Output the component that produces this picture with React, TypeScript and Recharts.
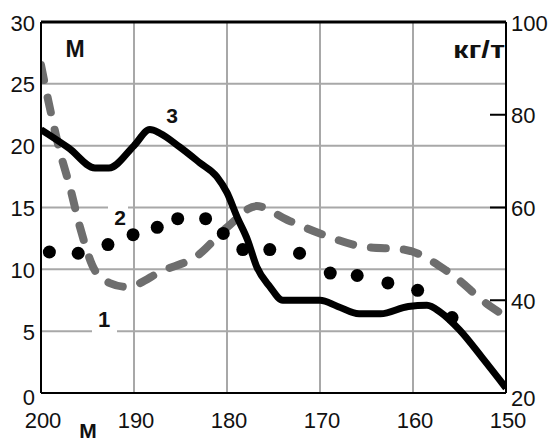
import React from 'react';
import { LineChart, Line, XAxis, YAxis, CartesianGrid, ReferenceLine } from 'recharts';

// series 1 (gray dashed), kg/t on the right axis
const s1X = [200, 199.2, 198, 196.9, 195.8, 194.2, 192.6, 190.8, 186.9, 183.2, 180, 176.8, 173.5, 170, 165.2, 160.9, 156.2, 151.7, 150];
const s1Y = [90.7, 82.9, 72.3, 64.5, 55.7, 46.4, 43.7, 42.9, 46.4, 49.6, 55.7, 60.3, 57.3, 54.4, 51.5, 50.9, 46.1, 38.7, 36.5];

// series 2 (black dots), M on the left axis
const s2X = [199.1, 196, 192.8, 190.1, 187.5, 185.3, 182.3, 180.4, 178.3, 175.4, 172.2, 168.9, 166, 162.7, 159.5, 155.8];
const s2Y = [11.4, 11.3, 12.0, 12.8, 13.4, 14.1, 14.1, 12.9, 11.6, 11.6, 11.3, 9.7, 9.5, 8.9, 8.3, 6.1];

// series 3 (black solid), M on the left axis
const s3X = [200, 197, 194.2, 192.7, 190, 188.3, 187.2, 185.1, 182.9, 181.1, 180, 178.9, 177.8, 176.8, 175.4, 174, 170, 168.1, 165.8, 163.5, 160.5, 158.5, 157, 155, 152.5, 150];
const s3Y = [21.3, 19.8, 18.2, 18.2, 20.0, 21.3, 21.0, 19.9, 18.6, 17.5, 16.2, 14.2, 12.4, 10.2, 8.6, 7.5, 7.5, 7.0, 6.4, 6.4, 7.0, 7.1, 6.5, 5.1, 2.8, 0.4];

const xTicks = [200, 190, 180, 170, 160, 150];
const leftTicks = [0, 5, 10, 15, 20, 25, 30];
const rightTicks = [20, 40, 60, 80, 100];

const data1 = s1X.map((x, i) => ({ x, v: s1Y[i] }));
const data2 = s2X.map((x, i) => ({ x, v: s2Y[i] }));
const data3 = s3X.map((x, i) => ({ x, v: s3Y[i] }));

const FONT = '"Liberation Sans", Arial, sans-serif';

const LeftTick = (props: any) => {
  const { x, y, payload } = props;
  const dy = payload.value === 0 ? 12 : 8.5;
  return (
    <text x={x} y={y + dy} textAnchor="end" fontFamily={FONT} fontSize={22} fill="#111">
      {payload.value}
    </text>
  );
};

const RightTick = (props: any) => {
  const { x, y, payload } = props;
  const dy = payload.value === 20 ? 13 : 8.5;
  const showMark = payload.value > 20;
  return (
    <g>
      {showMark && <line x1={x - 21} x2={x - 5} y1={y} y2={y} stroke="#000" strokeWidth={2} />}
      <text x={x} y={y + dy} textAnchor="start" fontFamily={FONT} fontSize={22} fill="#111">
        {payload.value}
      </text>
    </g>
  );
};

const BottomTick = (props: any) => {
  const { x, y, payload } = props;
  return (
    <text x={x + 2} y={y + 35} textAnchor="middle" fontFamily={FONT} fontSize={22} fill="#111">
      {payload.value}
    </text>
  );
};

export default function App() {
  return (
    <div style={{ position: 'absolute', left: 0, top: 0, width: 550, height: 445, background: '#fff' }}>
      <LineChart width={550} height={445} margin={{ top: 22, right: 0, bottom: 0, left: 0 }}>
        <CartesianGrid yAxisId="l" stroke="#a8a8a8" strokeWidth={2} />
        <XAxis
          dataKey="x"
          type="number"
          domain={[150, 200]}
          reversed
          ticks={xTicks}
          allowDataOverflow
          height={52}
          axisLine={{ stroke: '#000', strokeWidth: 2 }}
          tickLine={false}
          tickSize={0}
          tickMargin={0}
          tick={<BottomTick />}
        />
        <YAxis
          yAxisId="l"
          domain={[0, 30]}
          ticks={leftTicks}
          width={41}
          axisLine={{ stroke: '#000', strokeWidth: 2 }}
          tickLine={false}
          tickSize={0}
          tickMargin={6}
          tick={<LeftTick />}
        />
        <YAxis
          yAxisId="r"
          orientation="right"
          domain={[20, 100]}
          ticks={rightTicks}
          width={44}
          axisLine={{ stroke: '#000', strokeWidth: 2 }}
          tickLine={false}
          tickSize={0}
          tickMargin={5}
          tick={<RightTick />}
        />
        <ReferenceLine yAxisId="l" y={30} stroke="#000" strokeWidth={3} />
        <Line
          yAxisId="r"
          data={data1}
          dataKey="v"
          type="monotone"
          stroke="#6e6e6e"
          strokeWidth={8}
          strokeDasharray="15 18"
          strokeLinecap="round"
          dot={false}
          activeDot={false}
          isAnimationActive={false}
        />
        <Line
          yAxisId="l"
          data={data2}
          dataKey="v"
          type="monotone"
          stroke="none"
          dot={{ r: 6.5, fill: '#000', stroke: 'none' }}
          activeDot={false}
          isAnimationActive={false}
        />
        <Line
          yAxisId="l"
          data={data3}
          dataKey="v"
          type="monotone"
          stroke="#000"
          strokeWidth={7}
          strokeLinejoin="round"
          dot={false}
          activeDot={false}
          isAnimationActive={false}
        />
      </LineChart>
      <svg width={550} height={445} style={{ position: 'absolute', left: 0, top: 0, pointerEvents: 'none' }}>
        <g fontFamily={FONT} fill="#111">
          <text x={75} y={57} textAnchor="middle" fontSize={23} fontWeight="bold">M</text>
          <text x={479} y={58} textAnchor="middle" fontSize={24} fontWeight="bold" textLength={52} lengthAdjust="spacingAndGlyphs">кг/т</text>
          <text x={88} y={438} textAnchor="middle" fontSize={21} fontWeight="bold">M</text>
          <rect x={92} y={306} width={25} height={30} fill="#fff" />
          <text x={104} y={327} textAnchor="middle" fontSize={22} fontWeight="bold">1</text>
          <rect x={108} y={203} width={20} height={24} fill="#fff" />
          <text x={120} y={225} textAnchor="middle" fontSize={21} fontWeight="bold">2</text>
          <text x={172} y={123} textAnchor="middle" fontSize={21} fontWeight="bold">3</text>
        </g>
      </svg>
    </div>
  );
}
